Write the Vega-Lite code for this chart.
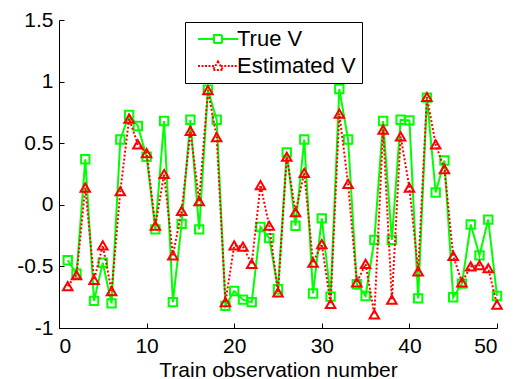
{
  "$schema": "https://vega.github.io/schema/vega-lite/v6.json",
  "width": 438,
  "height": 308,
  "autosize": "none",
  "padding": {"left": 59, "top": 20, "right": 21, "bottom": 51},
  "background": "white",
  "config": {
    "font": "Liberation Sans",
    "view": {"stroke": null},
    "axis": {
      "grid": false,
      "domainColor": "black",
      "domainWidth": 1,
      "tickColor": "black",
      "tickSize": -5,
      "labelColor": "black",
      "labelFont": "Liberation Sans",
      "labelFontSize": 21,
      "titleFont": "Liberation Sans",
      "titleFontSize": 21,
      "titleFontWeight": "normal",
      "titleColor": "black"
    }
  },
  "data": {
    "values": [
      {"n": 1, "series": "True V", "v": -0.45},
      {"n": 2, "series": "True V", "v": -0.56},
      {"n": 3, "series": "True V", "v": 0.37},
      {"n": 4, "series": "True V", "v": -0.78},
      {"n": 5, "series": "True V", "v": -0.47},
      {"n": 6, "series": "True V", "v": -0.80},
      {"n": 7, "series": "True V", "v": 0.53},
      {"n": 8, "series": "True V", "v": 0.73},
      {"n": 9, "series": "True V", "v": 0.64},
      {"n": 10, "series": "True V", "v": 0.39},
      {"n": 11, "series": "True V", "v": -0.20},
      {"n": 12, "series": "True V", "v": 0.68},
      {"n": 13, "series": "True V", "v": -0.79},
      {"n": 14, "series": "True V", "v": -0.155},
      {"n": 15, "series": "True V", "v": 0.69},
      {"n": 16, "series": "True V", "v": -0.20},
      {"n": 17, "series": "True V", "v": 0.935},
      {"n": 18, "series": "True V", "v": 0.69},
      {"n": 19, "series": "True V", "v": -0.82},
      {"n": 20, "series": "True V", "v": -0.70},
      {"n": 21, "series": "True V", "v": -0.77},
      {"n": 22, "series": "True V", "v": -0.79},
      {"n": 23, "series": "True V", "v": -0.18},
      {"n": 24, "series": "True V", "v": -0.27},
      {"n": 25, "series": "True V", "v": -0.685},
      {"n": 26, "series": "True V", "v": 0.425},
      {"n": 27, "series": "True V", "v": -0.17},
      {"n": 28, "series": "True V", "v": 0.53},
      {"n": 29, "series": "True V", "v": -0.72},
      {"n": 30, "series": "True V", "v": -0.11},
      {"n": 31, "series": "True V", "v": -0.745},
      {"n": 32, "series": "True V", "v": 0.94},
      {"n": 33, "series": "True V", "v": 0.53},
      {"n": 34, "series": "True V", "v": -0.645},
      {"n": 35, "series": "True V", "v": -0.74},
      {"n": 36, "series": "True V", "v": -0.285},
      {"n": 37, "series": "True V", "v": 0.68},
      {"n": 38, "series": "True V", "v": -0.285},
      {"n": 39, "series": "True V", "v": 0.69},
      {"n": 40, "series": "True V", "v": 0.685},
      {"n": 41, "series": "True V", "v": -0.76},
      {"n": 42, "series": "True V", "v": 0.87},
      {"n": 43, "series": "True V", "v": 0.10},
      {"n": 44, "series": "True V", "v": 0.36},
      {"n": 45, "series": "True V", "v": -0.75},
      {"n": 46, "series": "True V", "v": -0.64},
      {"n": 47, "series": "True V", "v": -0.16},
      {"n": 48, "series": "True V", "v": -0.41},
      {"n": 49, "series": "True V", "v": -0.12},
      {"n": 50, "series": "True V", "v": -0.74},
      {"n": 1, "series": "Estimated V", "v": -0.66},
      {"n": 2, "series": "Estimated V", "v": -0.57},
      {"n": 3, "series": "Estimated V", "v": 0.14},
      {"n": 4, "series": "Estimated V", "v": -0.61},
      {"n": 5, "series": "Estimated V", "v": -0.33},
      {"n": 6, "series": "Estimated V", "v": -0.70},
      {"n": 7, "series": "Estimated V", "v": 0.11},
      {"n": 8, "series": "Estimated V", "v": 0.70},
      {"n": 9, "series": "Estimated V", "v": 0.49},
      {"n": 10, "series": "Estimated V", "v": 0.42},
      {"n": 11, "series": "Estimated V", "v": -0.17},
      {"n": 12, "series": "Estimated V", "v": 0.25},
      {"n": 13, "series": "Estimated V", "v": -0.41},
      {"n": 14, "series": "Estimated V", "v": -0.05},
      {"n": 15, "series": "Estimated V", "v": 0.60},
      {"n": 16, "series": "Estimated V", "v": 0.03},
      {"n": 17, "series": "Estimated V", "v": 0.93},
      {"n": 18, "series": "Estimated V", "v": 0.55},
      {"n": 19, "series": "Estimated V", "v": -0.79},
      {"n": 20, "series": "Estimated V", "v": -0.33},
      {"n": 21, "series": "Estimated V", "v": -0.34},
      {"n": 22, "series": "Estimated V", "v": -0.48},
      {"n": 23, "series": "Estimated V", "v": 0.16},
      {"n": 24, "series": "Estimated V", "v": -0.17},
      {"n": 25, "series": "Estimated V", "v": -0.71},
      {"n": 26, "series": "Estimated V", "v": 0.39},
      {"n": 27, "series": "Estimated V", "v": -0.06},
      {"n": 28, "series": "Estimated V", "v": 0.26},
      {"n": 29, "series": "Estimated V", "v": -0.47},
      {"n": 30, "series": "Estimated V", "v": -0.32},
      {"n": 31, "series": "Estimated V", "v": -0.805},
      {"n": 32, "series": "Estimated V", "v": 0.74},
      {"n": 33, "series": "Estimated V", "v": 0.17},
      {"n": 34, "series": "Estimated V", "v": -0.63},
      {"n": 35, "series": "Estimated V", "v": -0.48},
      {"n": 36, "series": "Estimated V", "v": -0.89},
      {"n": 37, "series": "Estimated V", "v": 0.61},
      {"n": 38, "series": "Estimated V", "v": -0.77},
      {"n": 39, "series": "Estimated V", "v": 0.555},
      {"n": 40, "series": "Estimated V", "v": 0.14},
      {"n": 41, "series": "Estimated V", "v": -0.54},
      {"n": 42, "series": "Estimated V", "v": 0.875},
      {"n": 43, "series": "Estimated V", "v": 0.49},
      {"n": 44, "series": "Estimated V", "v": 0.29},
      {"n": 45, "series": "Estimated V", "v": -0.415},
      {"n": 46, "series": "Estimated V", "v": -0.63},
      {"n": 47, "series": "Estimated V", "v": -0.50},
      {"n": 48, "series": "Estimated V", "v": -0.49},
      {"n": 49, "series": "Estimated V", "v": -0.515},
      {"n": 50, "series": "Estimated V", "v": -0.81}
    ]
  },
  "encoding": {
    "x": {
      "field": "n",
      "type": "quantitative",
      "scale": {"domain": [0, 50], "nice": false, "zero": false},
      "axis": {"values": [0, 10, 20, 30, 40, 50], "title": "Train observation number", "labelPadding": 12, "titlePadding": 3, "labelExpr": "'' + datum.value"}
    },
    "y": {
      "field": "v",
      "type": "quantitative",
      "scale": {"domain": [-1, 1.5], "nice": false, "zero": false},
      "axis": {"values": [-1, -0.5, 0, 0.5, 1, 1.5], "title": null, "labelPadding": 11, "labelExpr": "'' + datum.value"}
    },
    "color": {
      "field": "series",
      "type": "nominal",
      "scale": {"domain": ["True V", "Estimated V"], "range": ["#00ff00", "#ff0000"]},
      "legend": {
        "title": null,
        "orient": "none",
        "legendX": 126,
        "legendY": 2,
        "direction": "vertical",
        "fillColor": "white",
        "strokeColor": "black",
        "padding": 6,
        "labelFont": "Liberation Sans",
        "labelFontSize": 22,
        "labelColor": "black",
        "labelOffset": 8,
        "symbolOffset": 16,
        "symbolSize": 100,
        "symbolStrokeWidth": 2,
        "rowPadding": 5,
        "encode": {
          "symbols": {
            "update": {
              "shape": {"signal": "datum.value == 'True V' ? 'M-4,0H-0.8M0.8,0H4M-0.8,-0.8H0.8V0.8H-0.8Z' : 'M-4,0H-0.55M0.55,0H4M0,-0.9L1,0.8H-1Z'"},
              "strokeDash": {"signal": "datum.value == 'True V' ? [1,0] : [2,1.5]"},
              "fill": {"value": "transparent"},
              "fillOpacity": {"value": 0},
              "strokeWidth": {"value": 2}
            }
          }
        }
      }
    }
  },
  "layer": [
    {
      "transform": [{"filter": "datum.series == 'True V'"}],
      "mark": {"type": "line", "strokeWidth": 2}
    },
    {
      "transform": [{"filter": "datum.series == 'True V'"}],
      "mark": {"type": "point", "shape": "square", "filled": false, "size": 70, "strokeWidth": 2, "opacity": 1}
    },
    {
      "transform": [{"filter": "datum.series == 'Estimated V'"}],
      "mark": {"type": "line", "strokeWidth": 2, "strokeDash": [2, 2]}
    },
    {
      "transform": [{"filter": "datum.series == 'Estimated V'"}],
      "mark": {"type": "point", "shape": "triangle-up", "filled": false, "size": 90, "strokeWidth": 2, "opacity": 1}
    }
  ]
}
